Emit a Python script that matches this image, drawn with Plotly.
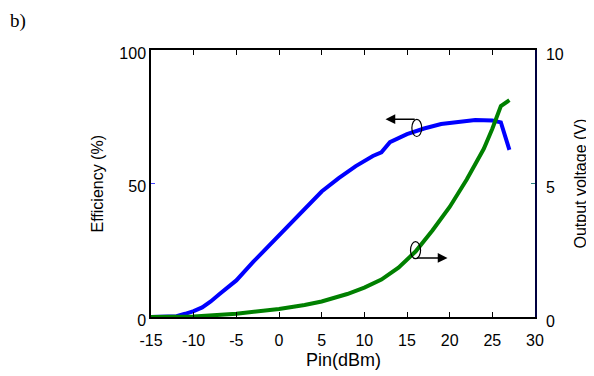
import plotly.graph_objects as go

# Efficiency (%) vs Pin (dBm)
pin_eff = [-15, -12, -11, -10, -9, -8, -7, -5, -3, -1, 0, 2, 4, 5, 7, 9, 11, 12, 13, 15, 17, 19, 21, 23, 25, 26, 27]
efficiency = [0, 0.3, 1.2, 2.2, 3.6, 5.8, 8.5, 13.7, 20.7, 27.2, 30.3, 37, 43.8, 47, 52, 56.5, 60.3, 61.7, 65.5, 68.5, 70.6, 72.3, 73, 73.8, 73.6, 72.9, 62.6]

# Output voltage (V) vs Pin (dBm)
pin_v = [-15, -12, -10, -5, -2, 0, 3, 5, 8, 10, 12, 14, 16, 18, 20, 22, 24, 25, 26, 27]
voltage = [0, 0, 0.02, 0.12, 0.22, 0.3, 0.45, 0.58, 0.86, 1.1, 1.4, 1.85, 2.45, 3.25, 4.12, 5.15, 6.3, 7.05, 7.9, 8.12]

x_ticks = [-15, -10, -5, 0, 5, 10, 15, 20, 25, 30]
x_tick_labels = ["-15", "-10", "-5", "0", "5", "10", "15", "20", "25", "30"]
y1_ticks = [0, 50, 100]
y2_ticks = [0, 5, 10]

fig = go.Figure()
fig.add_trace(go.Scatter(x=pin_eff, y=efficiency, mode="lines",
                         line=dict(color="#0000FF", width=4), yaxis="y", showlegend=False))
fig.add_trace(go.Scatter(x=pin_v, y=voltage, mode="lines",
                         line=dict(color="#008000", width=4), yaxis="y2", showlegend=False))

font = dict(family="Liberation Sans, Arial, sans-serif", size=16, color="black")

# page body has an 8px margin, so the figure is sized/offset accordingly
fig.update_layout(
    width=586, height=368,
    margin=dict(l=143, r=59, t=42, b=59),
    paper_bgcolor="white", plot_bgcolor="white",
    font=font,
    xaxis=dict(range=[-15, 30], tickvals=x_ticks, ticktext=x_tick_labels, ticks="inside", ticklen=5,
               tickcolor="black", showline=True, linecolor="black", linewidth=1.5,
               mirror="ticks", showgrid=False, zeroline=False, tickfont=font,
               ticklabelstandoff=8),
    yaxis=dict(range=[0, 100], tickvals=y1_ticks, ticks="inside", ticklen=4,
               tickcolor="#4444ff", showline=True, linecolor="black", linewidth=1.5,
               showgrid=False, zeroline=False, tickfont=font, ticklabelshift=3),
    yaxis2=dict(range=[0, 10], tickvals=y2_ticks, ticks="inside", ticklen=4,
                tickcolor="#2a8080", showline=True, linecolor="#000040", linewidth=1.5,
                overlaying="y", side="right", showgrid=False, zeroline=False, tickfont=font,
                ticklabelshift=4, ticklabelstandoff=6),
)

# Axis titles
fig.add_annotation(text="Pin(dBm)", xref="paper", yref="paper", x=0.5, y=0,
                   yshift=-43, showarrow=False, font=dict(font, size=18), yanchor="middle")
fig.add_annotation(text="Efficiency (%)", xref="paper", yref="paper", x=0, y=0.5,
                   xshift=-54, showarrow=False, textangle=-90, font=font, xanchor="center")
fig.add_annotation(text="Output voltage (V)", xref="paper", yref="paper", x=1, y=0.5,
                   xshift=45, showarrow=False, textangle=-90, font=font, xanchor="center")
fig.add_annotation(text="b)", xref="paper", yref="paper", x=0, y=1, xshift=-143, yshift=29,
                   showarrow=False, xanchor="left", yanchor="middle",
                   font=dict(family="Liberation Serif, Times New Roman, serif", size=19, color="black"))

# Ellipse markers and arrows
fig.add_shape(type="circle", xref="x", yref="y", x0=15.57, x1=16.73, y0=67.6, y1=74.0,
              line=dict(color="black", width=1.2))
fig.add_annotation(x=12.48, y=74.1, ax=16.08, ay=74.1, xref="x", yref="y", axref="x", ayref="y",
                   showarrow=True, arrowhead=2, arrowsize=1.3, arrowwidth=1.5, arrowcolor="black", text="")
fig.add_shape(type="circle", xref="x", yref="y", x0=15.41, x1=16.59, y0=21.85, y1=28.2,
              line=dict(color="black", width=1.2))
fig.add_annotation(x=19.75, y=22.1, ax=16.0, ay=22.1, xref="x", yref="y", axref="x", ayref="y",
                   showarrow=True, arrowhead=2, arrowsize=1.3, arrowwidth=1.5, arrowcolor="black", text="")

fig.write_html("out.html")
